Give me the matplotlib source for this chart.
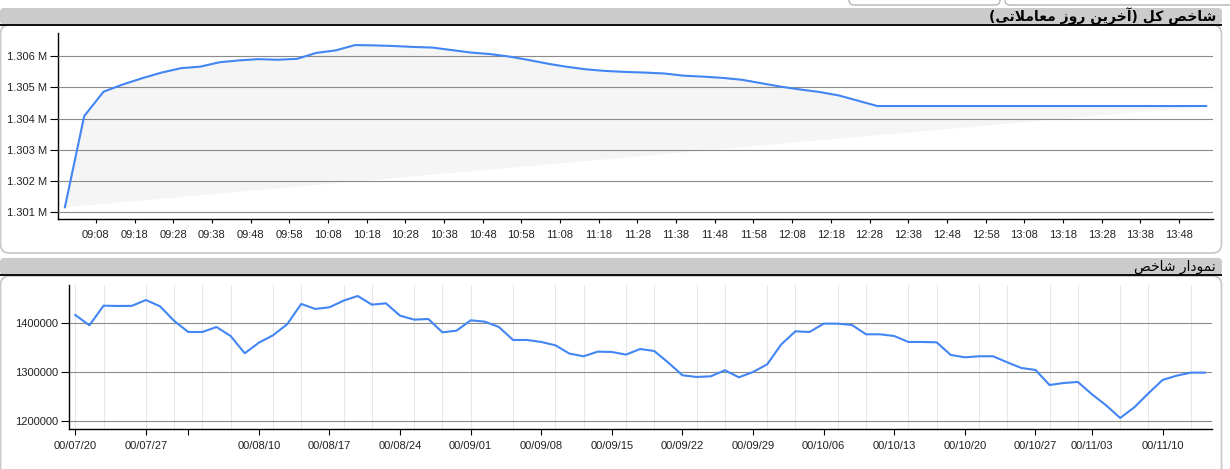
import matplotlib
matplotlib.use("Agg")
import matplotlib.pyplot as plt
from matplotlib.patches import FancyBboxPatch, Rectangle
from matplotlib.ticker import FuncFormatter

# --- intraday index (last trading day), one point every 5 minutes ---
intraday_times = [
    "09:00", "09:05", "09:10", "09:15", "09:20", "09:25", "09:30", "09:35", "09:40", "09:45",
    "09:50", "09:55", "10:00", "10:05", "10:10", "10:15", "10:20", "10:25", "10:30", "10:35",
    "10:40", "10:45", "10:50", "10:55", "11:00", "11:05", "11:10", "11:15", "11:20", "11:25",
    "11:30", "11:35", "11:40", "11:45", "11:50", "11:55", "12:00", "12:05", "12:10", "12:15",
    "12:20", "12:25", "12:30", "12:35", "12:40", "12:45", "12:50", "12:55", "13:00", "13:05",
    "13:10", "13:15", "13:20", "13:25", "13:30", "13:35", "13:40", "13:45", "13:50", "13:55",
]
intraday_values = [
    1301160, 1304080, 1304860, 1305090, 1305290, 1305470, 1305610, 1305660, 1305800, 1305860,
    1305900, 1305880, 1305910, 1306100, 1306180, 1306350, 1306340, 1306320, 1306290, 1306270,
    1306190, 1306110, 1306060, 1305980, 1305870, 1305750, 1305650, 1305570, 1305520, 1305490,
    1305470, 1305440, 1305370, 1305340, 1305300, 1305240, 1305130, 1305020, 1304930, 1304850,
    1304740, 1304570, 1304400, 1304400, 1304400, 1304400, 1304400, 1304400, 1304400, 1304400,
    1304400, 1304400, 1304400, 1304400, 1304400, 1304400, 1304400, 1304400, 1304400, 1304400,
]
intraday_tick_labels = [
    "09:08", "09:18", "09:28", "09:38", "09:48", "09:58", "10:08", "10:18", "10:28", "10:38",
    "10:48", "10:58", "11:08", "11:18", "11:28", "11:38", "11:48", "11:58", "12:08", "12:18",
    "12:28", "12:38", "12:48", "12:58", "13:08", "13:18", "13:28", "13:38", "13:48",
]

# --- daily index, one point per trading day ---
daily_values = [
    1417000, 1395900, 1436000, 1435400, 1435600, 1447600, 1434700, 1405000, 1382300, 1382300,
    1392500, 1374100, 1338800, 1360500, 1375500, 1398000, 1439500, 1429300, 1432700, 1446300,
    1455800, 1438100, 1440800, 1415600, 1407500, 1408800, 1381600, 1385000, 1406100, 1403400,
    1392500, 1366000, 1366000, 1361900, 1355100, 1338100, 1332700, 1342200, 1341500, 1336100,
    1347600, 1343500, 1319700, 1293900, 1290500, 1291800, 1304100, 1289800, 1300700, 1316300,
    1357100, 1383700, 1382300, 1399300, 1399300, 1396600, 1377600, 1377600, 1374100, 1361900,
    1361900, 1361200, 1335400, 1330600, 1332700, 1332700, 1320400, 1308800, 1304800, 1274100,
    1278200, 1280300, 1255100, 1232700, 1206800, 1228600, 1257100, 1284400, 1293200, 1299300,
    1299300,
]
daily_tick_idx = [0, 5, 8, 13, 18, 23, 28, 33, 38, 43, 48, 53, 58, 63, 68, 72, 77]
daily_tick_labels = [
    "00/07/20", "00/07/27", "", "00/08/10", "00/08/17", "00/08/24", "00/09/01", "00/09/08",
    "00/09/15", "00/09/22", "00/09/29", "00/10/06", "00/10/13", "00/10/20", "00/10/27",
    "00/11/03", "00/11/10",
]
daily_minor_idx = [0, 2, 5, 7, 9, 11, 14, 16, 19, 21, 24, 26, 28, 31, 34, 36, 39, 41, 44, 46,
                   49, 51, 54, 56, 59, 61, 64, 66, 69, 71, 74, 76, 79]

# Persian titles, written as shaped presentation forms in visual (left-to-right) order
# "شاخص کل (آخرین روز معاملاتی)"
title_top = ("(\ufef0\ufe97\ufefc\ufee3\ufe8e\ufecc\ufee3 \ufeaf\ufeed\ufead "
             "\ufee6\ufef3\ufeae\ufea7\ufe81) \ufede\ufedb \ufeba\ufea7\ufe8e\ufeb7")
# "نمودار شاخص"
title_bottom = "\ufeba\ufea7\ufe8e\ufeb7 \ufead\ufe8d\ufea9\ufeee\ufee4\ufee7"

W, H = 1230, 469
BLUE = "#4285f4"
GRID = "#8a8a8a"
TXT = "#222222"
TICK_FONT = "Liberation Sans"


def to_min(s):
    return int(s[:2]) * 60 + int(s[3:])


def px_box(x0, y0, x1, y1):
    return [x0 / W, 1 - y1 / H, (x1 - x0) / W, (y1 - y0) / H]


fig = plt.figure(figsize=(W / 100, H / 100), dpi=100)

# page chrome: tabs, header bars, panels
bg = fig.add_axes([0, 0, 1, 1])
bg.set_xlim(0, W)
bg.set_ylim(H, 0)
bg.axis("off")
bg.set_zorder(0)

for x0, x1 in [(849, 1000), (1005, 1240)]:
    bg.add_patch(FancyBboxPatch((x0, -12), x1 - x0, 17, boxstyle="round,pad=0,rounding_size=5",
                                fc="white", ec="#b5b5b5", lw=1))

bg.add_patch(FancyBboxPatch((0.5, 25), 1221, 228, boxstyle="round,pad=0,rounding_size=9",
                            fc="white", ec="#c9c9c9", lw=1.3))
bg.add_patch(FancyBboxPatch((0.5, 276), 1221, 210, boxstyle="round,pad=0,rounding_size=9",
                            fc="white", ec="#c9c9c9", lw=1.3))

for y0, y1 in [(8, 24.5), (258, 275)]:
    bg.add_patch(FancyBboxPatch((0, y0), 1222, y1 - y0, boxstyle="round,pad=0,rounding_size=4",
                                fc="#cbcbcb", ec="none"))
    bg.add_patch(Rectangle((0, y1 - 0.5), 1222, 1.8, fc="#111111", ec="none"))

bg.text(1216, 16.5, title_top, ha="right", va="center", fontsize=10, fontweight="bold",
        color="black", family=["DejaVu Sans"])
bg.text(1216, 267, title_bottom, ha="right", va="center", fontsize=10,
        color="black", family=["DejaVu Sans"])

# --- top chart: intraday index ---
ax1 = fig.add_axes(px_box(58.3, 33, 1212.7, 219.3))
ax1.set_zorder(2)
ax1.patch.set_visible(False)
t_min = [to_min(t) for t in intraday_times]
ax1.fill(t_min, intraday_values, color="#f5f5f5", lw=0, zorder=1)
ax1.plot(t_min, intraday_values, color=BLUE, lw=1.5, zorder=3)
ax1.set_xlim(538.3, 836.7)
ax1.set_ylim(1300776, 1306736)
ax1.set_yticks(range(1301000, 1307000, 1000))
ax1.yaxis.set_major_formatter(FuncFormatter(lambda v, _: f"{v / 1e6:.3f} M"))
ax1.set_xticks([to_min(t) for t in intraday_tick_labels])
ax1.set_xticklabels(intraday_tick_labels)
ax1.grid(axis="y", color=GRID, lw=0.8, zorder=2)
ax1.set_axisbelow(False)
ax1.tick_params(axis="x", length=3, width=0.8, pad=5)
ax1.tick_params(axis="y", length=6, width=0.8, pad=2)

# --- bottom chart: daily index ---
ax2 = fig.add_axes(px_box(69.3, 285, 1211.7, 429))
ax2.set_zorder(2)
ax2.patch.set_visible(False)
for i in daily_minor_idx:
    ax2.axvline(i, color="#e6e6e6", lw=0.8, zorder=1)
ax2.plot(range(len(daily_values)), daily_values, color=BLUE, lw=1.5, zorder=3)
ax2.set_xlim(-0.425, 80.48)
ax2.set_ylim(1184300, 1478200)
ax2.set_yticks([1200000, 1300000, 1400000])
ax2.yaxis.set_major_formatter(FuncFormatter(lambda v, _: f"{int(v)}"))
ax2.set_xticks(daily_tick_idx)
ax2.set_xticklabels(daily_tick_labels)
ax2.grid(axis="y", color=GRID, lw=0.8, zorder=2)
ax2.tick_params(axis="x", length=4.5, width=0.8, pad=4)
ax2.tick_params(axis="y", length=6, width=0.8, pad=2)

for ax in (ax1, ax2):
    ax.spines["top"].set_visible(False)
    ax.spines["right"].set_visible(False)
    ax.spines["left"].set_linewidth(1.0)
    ax.spines["bottom"].set_linewidth(1.0)
    for lab in ax.get_xticklabels() + ax.get_yticklabels():
        lab.set_fontsize(8)
        lab.set_family(TICK_FONT)
        lab.set_color(TXT)

fig.savefig("out.png", dpi=100)
